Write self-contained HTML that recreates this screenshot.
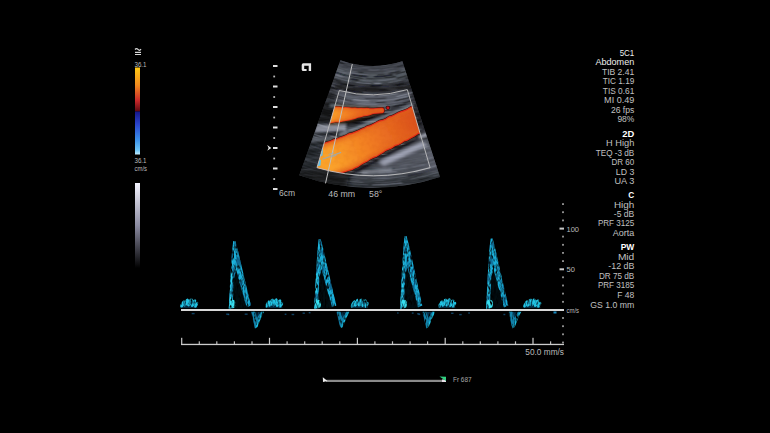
<!DOCTYPE html>
<html><head><meta charset="utf-8">
<style>
html,body{margin:0;padding:0;background:#000;width:770px;height:433px;overflow:hidden}
svg{display:block;position:absolute;left:0;top:0}
text{font-family:"Liberation Sans",sans-serif}
</style></head><body>
<svg width="770" height="433" viewBox="0 0 770 433">
<defs>
  <linearGradient id="gRed" x1="0" y1="0" x2="0" y2="1">
    <stop offset="0" stop-color="#ffc814"/>
    <stop offset="0.4" stop-color="#f08a1e"/>
    <stop offset="0.75" stop-color="#c8282a"/>
    <stop offset="1" stop-color="#5a0810"/>
  </linearGradient>
  <linearGradient id="gBlue" x1="0" y1="0" x2="0" y2="1">
    <stop offset="0" stop-color="#16168a"/>
    <stop offset="0.3" stop-color="#2a44cc"/>
    <stop offset="0.65" stop-color="#3a8ee8"/>
    <stop offset="0.9" stop-color="#6cc4f6"/>
    <stop offset="1" stop-color="#c0ecff"/>
  </linearGradient>
  <linearGradient id="gGray" x1="0" y1="0" x2="0" y2="1">
    <stop offset="0" stop-color="#f4f4ff"/>
    <stop offset="0.5" stop-color="#8a8aa0"/>
    <stop offset="1" stop-color="#000"/>
  </linearGradient>
</defs>
<rect width="770" height="433" fill="#000"/>


<!-- sector image -->
<defs>
  <clipPath id="cSector"><path d="M340.4 60.3 A96 96 0 0 0 402.4 61.3 L440 177 A218 218 0 0 1 299.3 175.3 Z"/></clipPath>
  <clipPath id="cBox"><path d="M339.3 90.5 A125 125 0 0 0 407.3 89.6 L430.1 167.7 A205.5 205.5 0 0 1 317 167.7 Z"/></clipPath>
  <filter id="fTex" x="0" y="0" width="100%" height="100%" color-interpolation-filters="sRGB">
    <feTurbulence type="fractalNoise" baseFrequency="0.045 0.28" numOctaves="3" seed="7"/>
    <feColorMatrix type="matrix" values="0 0 0 0 0.72  0 0 0 0 0.74  0 0 0 0 0.84  2.4 0 0 0 -1.05"/>
  </filter>
  <filter id="fTexD" x="0" y="0" width="100%" height="100%" color-interpolation-filters="sRGB">
    <feTurbulence type="fractalNoise" baseFrequency="0.04 0.22" numOctaves="2" seed="21"/>
    <feColorMatrix type="matrix" values="0 0 0 0 0.03  0 0 0 0 0.03  0 0 0 0 0.04  2.4 0 0 0 -1.0"/>
  </filter>
  <filter id="fVTex" x="0" y="0" width="100%" height="100%" color-interpolation-filters="sRGB">
    <feTurbulence type="fractalNoise" baseFrequency="0.2" numOctaves="2" seed="12"/>
    <feColorMatrix type="matrix" values="0 0 0 0 0.75  0 0 0 0 0.25  0 0 0 0 0.08  2.6 0 0 0 -1.15"/>
  </filter>
  <filter id="fB1" x="-20%" y="-20%" width="140%" height="140%"><feGaussianBlur stdDeviation="1.2"/></filter>
  <filter id="fArc" x="-20%" y="-20%" width="140%" height="140%"><feGaussianBlur stdDeviation="1.1 0.5"/></filter>
  <filter id="fB07" x="-20%" y="-20%" width="140%" height="140%"><feGaussianBlur stdDeviation="0.7"/></filter>
  <filter id="fB2" x="-30%" y="-30%" width="160%" height="160%"><feGaussianBlur stdDeviation="2.5"/></filter>
  <filter id="fB3" x="-30%" y="-30%" width="160%" height="160%"><feGaussianBlur stdDeviation="4"/></filter>
  <linearGradient id="gVes" gradientUnits="userSpaceOnUse" x1="330" y1="160" x2="420" y2="114">
    <stop offset="0" stop-color="#faa22a"/>
    <stop offset="0.4" stop-color="#f27e22"/>
    <stop offset="1" stop-color="#d84c1c"/>
  </linearGradient>
  <linearGradient id="gVes2" gradientUnits="userSpaceOnUse" x1="330" y1="115" x2="385" y2="110">
    <stop offset="0" stop-color="#faa22a"/>
    <stop offset="0.5" stop-color="#ee6e20"/>
    <stop offset="1" stop-color="#d84818"/>
  </linearGradient>
</defs>
<g clip-path="url(#cSector)">
  <rect x="290" y="55" width="160" height="140" fill="#2c2e33"/>
<g filter="url(#fB2)">
<path d="M334.7 51.6A90 90 0 0 0 410.7 51.6L416.7 64.3A104 104 0 0 1 328.7 64.3Z" fill="#383b42"/>
<path d="M328.7 64.3A104 104 0 0 0 416.7 64.3L420.9 73.3A114 114 0 0 1 324.5 73.3Z" fill="#50545c"/>
<path d="M345.1 80.6A114 114 0 0 0 404.1 79.6L406.9 89.2A124 124 0 0 1 342.7 90.3Z" fill="#1a1c20"/>
<path d="M338.5 89.2A124 124 0 0 0 411.0 87.9L415.0 100.3A137 137 0 0 1 334.9 101.7Z" fill="#585c66"/>
<path d="M312.6 93.1A137 137 0 0 0 334.9 101.7L309.3 191.1A230 230 0 0 1 271.9 176.7Z" fill="#24262a"/>
<path d="M318.4 159.4A197 197 0 0 0 456.0 148.5L469.9 178.5A230 230 0 0 1 309.3 191.1Z" fill="#2c2e32"/>
<path d="M408.2 89.9A125 125 0 0 0 425.5 83.3L444.5 124.1A170 170 0 0 1 421.0 133.0Z" fill="#222428"/>
<path d="M421.0 133.0A170 170 0 0 0 444.5 124.1L461.4 160.3A210 210 0 0 1 432.3 171.4Z" fill="#3a3d44"/>
</g>


<g fill="none" stroke-linecap="round" filter="url(#fArc)">
<path d="M338.0 59.5A96 96 0 0 0 348.0 62.8" stroke="#a0a6b6" stroke-opacity="0.13" stroke-width="1.1"/>
<path d="M355.6 64.5A96 96 0 0 0 367.0 65.8" stroke="#7c8290" stroke-opacity="0.13" stroke-width="1.1"/>
<path d="M373.8 66.0A96 96 0 0 0 388.9 64.6" stroke="#b0b6c6" stroke-opacity="0.25" stroke-width="1.2"/>
<path d="M394.4 63.5A96 96 0 0 0 405.2 60.3" stroke="#8a90a0" stroke-opacity="0.11" stroke-width="0.8"/>
<path d="M334.6 60.2A98 98 0 0 0 343.4 63.4" stroke="#0a0b0d" stroke-opacity="0.46" stroke-width="1.6"/>
<path d="M347.4 64.6A98 98 0 0 0 357.0 66.7" stroke="#7c8290" stroke-opacity="0.17" stroke-width="1.1"/>
<path d="M362.9 67.5A98 98 0 0 0 379.0 67.7" stroke="#a0a6b6" stroke-opacity="0.18" stroke-width="0.6"/>
<path d="M380.5 67.6A98 98 0 0 0 391.1 66.2" stroke="#7c8290" stroke-opacity="0.16" stroke-width="1.5"/>
<path d="M392.8 65.9A98 98 0 0 0 406.2 62.0" stroke="#8a90a0" stroke-opacity="0.18" stroke-width="1.5"/>
<path d="M334.1 62.3A100 100 0 0 0 345.3 66.3" stroke="#8a90a0" stroke-opacity="0.15" stroke-width="0.6"/>
<path d="M352.1 68.0A100 100 0 0 0 360.7 69.4" stroke="#8a90a0" stroke-opacity="0.11" stroke-width="1.0"/>
<path d="M368.8 70.0A100 100 0 0 0 378.7 69.9" stroke="#a0a6b6" stroke-opacity="0.25" stroke-width="1.3"/>
<path d="M384.9 69.4A100 100 0 0 0 393.6 67.9" stroke="#a0a6b6" stroke-opacity="0.11" stroke-width="1.4"/>
<path d="M397.4 67.0A100 100 0 0 0 406.9 64.1" stroke="#0a0b0d" stroke-opacity="0.31" stroke-width="1.0"/>
<path d="M336.4 66.5A103 103 0 0 0 347.4 69.9" stroke="#b0b6c6" stroke-opacity="0.14" stroke-width="1.3"/>
<path d="M348.6 70.2A103 103 0 0 0 356.2 71.8" stroke="#8a90a0" stroke-opacity="0.14" stroke-width="1.2"/>
<path d="M359.5 72.2A103 103 0 0 0 362.4 72.6" stroke="#0a0b0d" stroke-opacity="0.34" stroke-width="1.5"/>
<path d="M366.3 72.9A103 103 0 0 0 381.7 72.7" stroke="#a0a6b6" stroke-opacity="0.15" stroke-width="0.8"/>
<path d="M383.7 72.5A103 103 0 0 0 395.5 70.5" stroke="#a0a6b6" stroke-opacity="0.21" stroke-width="0.9"/>
<path d="M402.1 68.8A103 103 0 0 0 408.0 66.9" stroke="#8a90a0" stroke-opacity="0.11" stroke-width="1.5"/>
<path d="M336.5 68.6A105 105 0 0 0 342.9 70.7" stroke="#7c8290" stroke-opacity="0.43" stroke-width="1.4"/>
<path d="M350.3 72.6A105 105 0 0 0 368.1 74.9" stroke="#8a90a0" stroke-opacity="0.34" stroke-width="1.4"/>
<path d="M370.1 75.0A105 105 0 0 0 376.0 75.0" stroke="#b0b6c6" stroke-opacity="0.33" stroke-width="0.6"/>
<path d="M377.1 74.9A105 105 0 0 0 384.2 74.4" stroke="#0a0b0d" stroke-opacity="0.33" stroke-width="1.0"/>
<path d="M389.5 73.7A105 105 0 0 0 399.0 71.7" stroke="#0a0b0d" stroke-opacity="0.46" stroke-width="1.9"/>
<path d="M402.5 70.7A105 105 0 0 0 408.6 68.7" stroke="#7c8290" stroke-opacity="0.28" stroke-width="1.5"/>
<path d="M335.4 69.9A107 107 0 0 0 345.4 73.1" stroke="#8a90a0" stroke-opacity="0.27" stroke-width="1.1"/>
<path d="M352.2 74.7A107 107 0 0 0 366.6 76.5" stroke="#0a0b0d" stroke-opacity="0.51" stroke-width="1.8"/>
<path d="M375.0 76.6A107 107 0 0 0 392.2 74.9" stroke="#0a0b0d" stroke-opacity="0.57" stroke-width="1.8"/>
<path d="M396.0 74.1A107 107 0 0 0 405.0 71.6" stroke="#0a0b0d" stroke-opacity="0.47" stroke-width="1.5"/>
<path d="M334.3 71.8A109 109 0 0 0 346.4 75.6" stroke="#0a0b0d" stroke-opacity="0.60" stroke-width="1.9"/>
<path d="M348.0 75.9A109 109 0 0 0 362.4 78.3" stroke="#0a0b0d" stroke-opacity="0.47" stroke-width="1.3"/>
<path d="M366.6 78.6A109 109 0 0 0 383.0 78.3" stroke="#0a0b0d" stroke-opacity="0.31" stroke-width="1.5"/>
<path d="M384.7 78.1A109 109 0 0 0 395.1 76.5" stroke="#0a0b0d" stroke-opacity="0.45" stroke-width="1.5"/>
<path d="M398.0 75.8A109 109 0 0 0 409.9 72.2" stroke="#7c8290" stroke-opacity="0.17" stroke-width="1.2"/>
<path d="M334.7 74.4A111 111 0 0 0 342.9 77.0" stroke="#a0a6b6" stroke-opacity="0.36" stroke-width="1.2"/>
<path d="M351.7 79.1A111 111 0 0 0 357.8 80.1" stroke="#0a0b0d" stroke-opacity="0.57" stroke-width="1.9"/>
<path d="M362.5 80.6A111 111 0 0 0 371.7 81.1" stroke="#a0a6b6" stroke-opacity="0.29" stroke-width="0.9"/>
<path d="M377.8 81.0A111 111 0 0 0 395.3 78.8" stroke="#7c8290" stroke-opacity="0.53" stroke-width="0.7"/>
<path d="M396.6 78.5A111 111 0 0 0 406.9 75.7" stroke="#0a0b0d" stroke-opacity="0.41" stroke-width="1.4"/>
<path d="M333.6 76.7A114 114 0 0 0 350.1 81.4" stroke="#8a90a0" stroke-opacity="0.34" stroke-width="1.1"/>
<path d="M356.6 82.5A114 114 0 0 0 370.9 83.6" stroke="#8a90a0" stroke-opacity="0.47" stroke-width="1.0"/>
<path d="M374.4 83.6A114 114 0 0 0 380.6 83.4" stroke="#a0a6b6" stroke-opacity="0.52" stroke-width="1.5"/>
<path d="M388.4 82.6A114 114 0 0 0 393.3 81.8" stroke="#7c8290" stroke-opacity="0.33" stroke-width="1.2"/>
<path d="M395.2 81.4A114 114 0 0 0 401.4 80.0" stroke="#8a90a0" stroke-opacity="0.29" stroke-width="1.1"/>
<path d="M406.4 78.5A114 114 0 0 0 409.8 77.4" stroke="#0a0b0d" stroke-opacity="0.46" stroke-width="1.9"/>
<path d="M334.9 79.6A116 116 0 0 0 340.4 81.4" stroke="#0a0b0d" stroke-opacity="0.37" stroke-width="1.3"/>
<path d="M348.9 83.5A116 116 0 0 0 367.1 85.8" stroke="#a0a6b6" stroke-opacity="0.08" stroke-width="1.4"/>
<path d="M371.7 86.0A116 116 0 0 0 381.2 85.6" stroke="#0a0b0d" stroke-opacity="0.54" stroke-width="1.9"/>
<path d="M387.3 85.0A116 116 0 0 0 398.2 83.1" stroke="#8a90a0" stroke-opacity="0.05" stroke-width="1.4"/>
<path d="M404.9 81.4A116 116 0 0 0 412.4 79.0" stroke="#7c8290" stroke-opacity="0.19" stroke-width="1.2"/>
<path d="M330.6 79.8A118 118 0 0 0 334.1 81.1" stroke="#7c8290" stroke-opacity="0.42" stroke-width="0.6"/>
<path d="M338.1 82.4A118 118 0 0 0 354.8 86.2" stroke="#0a0b0d" stroke-opacity="0.35" stroke-width="1.2"/>
<path d="M356.4 86.4A118 118 0 0 0 373.2 87.6" stroke="#b0b6c6" stroke-opacity="0.10" stroke-width="1.0"/>
<path d="M375.5 87.5A118 118 0 0 0 395.0 85.4" stroke="#7c8290" stroke-opacity="0.09" stroke-width="1.1"/>
<path d="M396.8 85.1A118 118 0 0 0 402.6 83.7" stroke="#0a0b0d" stroke-opacity="0.38" stroke-width="1.6"/>
<path d="M408.1 82.1A118 118 0 0 0 412.9 80.5" stroke="#0a0b0d" stroke-opacity="0.39" stroke-width="1.0"/>
<path d="M327.9 81.3A120 120 0 0 0 339.3 85.2" stroke="#8a90a0" stroke-opacity="0.46" stroke-width="0.6"/>
<path d="M344.0 86.5A120 120 0 0 0 364.1 89.6" stroke="#8a90a0" stroke-opacity="0.07" stroke-width="1.2"/>
<path d="M370.0 89.9A120 120 0 0 0 374.4 89.9" stroke="#b0b6c6" stroke-opacity="0.06" stroke-width="1.0"/>
<path d="M380.5 89.7A120 120 0 0 0 385.9 89.2" stroke="#0a0b0d" stroke-opacity="0.57" stroke-width="1.4"/>
<path d="M390.9 88.5A120 120 0 0 0 399.6 86.9" stroke="#0a0b0d" stroke-opacity="0.58" stroke-width="1.0"/>
<path d="M402.3 86.2A120 120 0 0 0 413.7 82.7" stroke="#a0a6b6" stroke-opacity="0.14" stroke-width="0.9"/>
<path d="M326.7 83.6A123 123 0 0 0 338.3 87.6" stroke="#7c8290" stroke-opacity="0.50" stroke-width="1.2"/>
<path d="M344.0 89.2A123 123 0 0 0 362.9 92.2" stroke="#0a0b0d" stroke-opacity="0.55" stroke-width="1.5"/>
<path d="M364.2 92.3A123 123 0 0 0 377.2 92.5" stroke="#a0a6b6" stroke-opacity="0.07" stroke-width="1.4"/>
<path d="M386.6 91.8A123 123 0 0 0 400.7 89.3" stroke="#7c8290" stroke-opacity="0.10" stroke-width="0.9"/>
<path d="M409.7 86.8A123 123 0 0 0 414.6 85.2" stroke="#a0a6b6" stroke-opacity="0.32" stroke-width="0.7"/>
<path d="M329.9 86.9A124 124 0 0 0 337.6 89.4" stroke="#0a0b0d" stroke-opacity="0.43" stroke-width="1.7"/>
<path d="M339.5 90.0A124 124 0 0 0 344.9 91.4" stroke="#0a0b0d" stroke-opacity="0.31" stroke-width="1.0"/>
<path d="M349.9 92.4A124 124 0 0 0 365.6 94.3" stroke="#0a0b0d" stroke-opacity="0.33" stroke-width="1.4"/>
<path d="M375.6 94.5A124 124 0 0 0 392.8 92.9" stroke="#0a0b0d" stroke-opacity="0.36" stroke-width="0.9"/>
<path d="M398.7 91.7A124 124 0 0 0 403.7 90.6" stroke="#b0b6c6" stroke-opacity="0.17" stroke-width="0.8"/>
<path d="M405.2 90.2A124 124 0 0 0 411.9 88.2" stroke="#0a0b0d" stroke-opacity="0.58" stroke-width="0.9"/>
<path d="M331.2 89.2A126 126 0 0 0 342.7 92.6" stroke="#b0b6c6" stroke-opacity="0.14" stroke-width="0.9"/>
<path d="M351.2 94.3A126 126 0 0 0 358.3 95.4" stroke="#0a0b0d" stroke-opacity="0.31" stroke-width="1.0"/>
<path d="M363.1 95.8A126 126 0 0 0 374.0 96.2" stroke="#a0a6b6" stroke-opacity="0.46" stroke-width="0.7"/>
<path d="M378.7 96.0A126 126 0 0 0 396.7 93.9" stroke="#b0b6c6" stroke-opacity="0.44" stroke-width="0.8"/>
<path d="M400.9 93.0A126 126 0 0 0 414.6 89.0" stroke="#0a0b0d" stroke-opacity="0.38" stroke-width="0.9"/>
<path d="M323.7 89.1A129 129 0 0 0 343.9 95.6" stroke="#7c8290" stroke-opacity="0.18" stroke-width="1.3"/>
<path d="M346.3 96.1A129 129 0 0 0 357.3 97.9" stroke="#7c8290" stroke-opacity="0.35" stroke-width="0.7"/>
<path d="M365.7 98.6A129 129 0 0 0 386.0 98.1" stroke="#0a0b0d" stroke-opacity="0.31" stroke-width="1.1"/>
<path d="M397.0 96.5A129 129 0 0 0 416.8 91.0" stroke="#b0b6c6" stroke-opacity="0.44" stroke-width="1.1"/>
<path d="M330.1 93.8A131 131 0 0 0 345.4 98.1" stroke="#0a0b0d" stroke-opacity="0.59" stroke-width="0.8"/>
<path d="M353.6 99.6A131 131 0 0 0 368.9 100.9" stroke="#b0b6c6" stroke-opacity="0.42" stroke-width="1.3"/>
<path d="M377.7 100.9A131 131 0 0 0 393.6 99.3" stroke="#7c8290" stroke-opacity="0.56" stroke-width="1.1"/>
<path d="M394.8 99.1A131 131 0 0 0 407.8 96.2" stroke="#8a90a0" stroke-opacity="0.47" stroke-width="1.3"/>
<path d="M326.0 94.2A133 133 0 0 0 343.6 99.4" stroke="#0a0b0d" stroke-opacity="0.35" stroke-width="1.4"/>
<path d="M345.2 99.8A133 133 0 0 0 351.9 101.0" stroke="#0a0b0d" stroke-opacity="0.32" stroke-width="1.9"/>
<path d="M358.2 101.9A133 133 0 0 0 369.9 102.6" stroke="#7c8290" stroke-opacity="0.43" stroke-width="1.0"/>
<path d="M376.5 102.6A133 133 0 0 0 385.3 102.1" stroke="#0a0b0d" stroke-opacity="0.52" stroke-width="0.8"/>
<path d="M396.0 100.6A133 133 0 0 0 414.1 96.0" stroke="#0a0b0d" stroke-opacity="0.42" stroke-width="1.6"/>
<path d="M322.9 94.8A134 134 0 0 0 333.7 98.6" stroke="#0a0b0d" stroke-opacity="0.40" stroke-width="1.8"/>
<path d="M340.8 100.5A134 134 0 0 0 348.6 102.2" stroke="#a0a6b6" stroke-opacity="0.26" stroke-width="0.7"/>
<path d="M357.3 103.4A134 134 0 0 0 376.9 104.3" stroke="#a0a6b6" stroke-opacity="0.46" stroke-width="0.7"/>
<path d="M387.6 103.5A134 134 0 0 0 403.3 100.8" stroke="#8a90a0" stroke-opacity="0.37" stroke-width="0.7"/>
<path d="M409.1 99.3A134 134 0 0 0 418.6 96.2" stroke="#7c8290" stroke-opacity="0.20" stroke-width="1.2"/>
<path d="M326.0 98.2A136 136 0 0 0 345.3 103.7" stroke="#a0a6b6" stroke-opacity="0.12" stroke-width="0.7"/>
<path d="M347.9 104.2A136 136 0 0 0 369.4 106.4" stroke="#0a0b0d" stroke-opacity="0.41" stroke-width="1.1"/>
<path d="M379.0 106.3A136 136 0 0 0 396.3 104.4" stroke="#7c8290" stroke-opacity="0.51" stroke-width="0.8"/>
<path d="M403.4 103.0A136 136 0 0 0 411.7 100.8" stroke="#0a0b0d" stroke-opacity="0.56" stroke-width="0.8"/>
<path d="M321.1 98.2A138 138 0 0 0 332.8 102.2" stroke="#7c8290" stroke-opacity="0.10" stroke-width="0.7"/>
<path d="M340.5 104.3A138 138 0 0 0 357.7 107.3" stroke="#0a0b0d" stroke-opacity="0.41" stroke-width="1.4"/>
<path d="M364.8 107.9A138 138 0 0 0 372.7 108.1" stroke="#0a0b0d" stroke-opacity="0.55" stroke-width="0.9"/>
<path d="M377.7 108.0A138 138 0 0 0 383.7 107.7" stroke="#0a0b0d" stroke-opacity="0.53" stroke-width="1.1"/>
<path d="M393.7 106.5A138 138 0 0 0 405.7 104.1" stroke="#0a0b0d" stroke-opacity="0.41" stroke-width="1.6"/>
<path d="M409.6 103.1A138 138 0 0 0 419.9 99.8" stroke="#a0a6b6" stroke-opacity="0.17" stroke-width="0.9"/>
<path d="M326.0 101.8A140 140 0 0 0 331.0 103.5" stroke="#b0b6c6" stroke-opacity="0.19" stroke-width="1.0"/>
<path d="M333.1 104.1A140 140 0 0 0 353.3 108.5" stroke="#8a90a0" stroke-opacity="0.49" stroke-width="1.0"/>
<path d="M354.6 108.7A140 140 0 0 0 374.1 109.9" stroke="#0a0b0d" stroke-opacity="0.37" stroke-width="1.6"/>
<path d="M378.9 109.7A140 140 0 0 0 389.3 108.9" stroke="#b0b6c6" stroke-opacity="0.44" stroke-width="1.4"/>
<path d="M400.4 107.1A140 140 0 0 0 420.5 101.4" stroke="#7c8290" stroke-opacity="0.41" stroke-width="0.8"/>
<path d="M323.7 104.1A143 143 0 0 0 337.7 108.5" stroke="#0a0b0d" stroke-opacity="0.31" stroke-width="1.6"/>
<path d="M339.8 109.0A143 143 0 0 0 355.7 111.8" stroke="#0a0b0d" stroke-opacity="0.41" stroke-width="1.3"/>
<path d="M365.8 112.7A143 143 0 0 0 372.8 112.8" stroke="#8a90a0" stroke-opacity="0.51" stroke-width="1.4"/>
<path d="M380.7 112.6A143 143 0 0 0 390.4 111.7" stroke="#a0a6b6" stroke-opacity="0.44" stroke-width="1.5"/>
<path d="M391.9 111.5A143 143 0 0 0 409.0 108.1" stroke="#7c8290" stroke-opacity="0.52" stroke-width="0.7"/>
<path d="M418.9 105.2A143 143 0 0 0 421.5 104.2" stroke="#0a0b0d" stroke-opacity="0.33" stroke-width="1.6"/>
<path d="M323.2 105.9A145 145 0 0 0 340.2 110.9" stroke="#7c8290" stroke-opacity="0.18" stroke-width="1.0"/>
<path d="M344.1 111.8A145 145 0 0 0 355.0 113.5" stroke="#0a0b0d" stroke-opacity="0.45" stroke-width="1.4"/>
<path d="M367.2 114.5A145 145 0 0 0 386.5 114.0" stroke="#0a0b0d" stroke-opacity="0.42" stroke-width="1.8"/>
<path d="M395.7 112.8A145 145 0 0 0 413.3 108.8" stroke="#0a0b0d" stroke-opacity="0.55" stroke-width="1.9"/>
<path d="M321.2 108.3A148 148 0 0 0 335.8 112.9" stroke="#0a0b0d" stroke-opacity="0.43" stroke-width="1.3"/>
<path d="M345.1 115.0A148 148 0 0 0 352.0 116.1" stroke="#0a0b0d" stroke-opacity="0.41" stroke-width="1.0"/>
<path d="M361.9 117.2A148 148 0 0 0 370.2 117.5" stroke="#8a90a0" stroke-opacity="0.41" stroke-width="1.3"/>
<path d="M376.4 117.5A148 148 0 0 0 386.9 116.9" stroke="#0a0b0d" stroke-opacity="0.57" stroke-width="1.7"/>
<path d="M390.0 116.6A148 148 0 0 0 394.2 116.0" stroke="#0a0b0d" stroke-opacity="0.39" stroke-width="1.0"/>
<path d="M400.9 114.8A148 148 0 0 0 412.3 112.1" stroke="#0a0b0d" stroke-opacity="0.44" stroke-width="1.4"/>
<path d="M420.1 109.8A148 148 0 0 0 423.2 108.7" stroke="#7c8290" stroke-opacity="0.20" stroke-width="1.4"/>
<path d="M322.4 111.3A150 150 0 0 0 336.5 115.5" stroke="#0a0b0d" stroke-opacity="0.50" stroke-width="1.7"/>
<path d="M342.4 116.8A150 150 0 0 0 348.3 117.9" stroke="#a0a6b6" stroke-opacity="0.58" stroke-width="1.3"/>
<path d="M359.7 119.4A150 150 0 0 0 372.1 119.9" stroke="#7c8290" stroke-opacity="0.52" stroke-width="0.7"/>
<path d="M379.7 119.8A150 150 0 0 0 403.9 116.7" stroke="#0a0b0d" stroke-opacity="0.57" stroke-width="1.3"/>
<path d="M415.4 113.7A150 150 0 0 0 424.0 110.9" stroke="#0a0b0d" stroke-opacity="0.42" stroke-width="1.7"/>
<path d="M322.4 113.2A152 152 0 0 0 343.8 119.0" stroke="#0a0b0d" stroke-opacity="0.49" stroke-width="1.4"/>
<path d="M346.6 119.5A152 152 0 0 0 351.7 120.3" stroke="#a0a6b6" stroke-opacity="0.53" stroke-width="1.4"/>
<path d="M359.8 121.2A152 152 0 0 0 382.3 121.4" stroke="#8a90a0" stroke-opacity="0.56" stroke-width="1.2"/>
<path d="M384.6 121.3A152 152 0 0 0 390.4 120.7" stroke="#7c8290" stroke-opacity="0.25" stroke-width="0.8"/>
<path d="M400.5 119.2A152 152 0 0 0 408.6 117.4" stroke="#0a0b0d" stroke-opacity="0.43" stroke-width="0.8"/>
<path d="M417.8 114.9A152 152 0 0 0 424.6 112.6" stroke="#0a0b0d" stroke-opacity="0.59" stroke-width="1.2"/>
<path d="M318.1 113.9A154 154 0 0 0 343.9 121.2" stroke="#8a90a0" stroke-opacity="0.17" stroke-width="0.7"/>
<path d="M353.2 122.7A154 154 0 0 0 366.1 123.8" stroke="#0a0b0d" stroke-opacity="0.55" stroke-width="1.6"/>
<path d="M373.1 123.9A154 154 0 0 0 377.4 123.8" stroke="#0a0b0d" stroke-opacity="0.37" stroke-width="1.5"/>
<path d="M383.3 123.5A154 154 0 0 0 397.6 121.9" stroke="#0a0b0d" stroke-opacity="0.54" stroke-width="1.0"/>
<path d="M399.1 121.6A154 154 0 0 0 416.7 117.5" stroke="#7c8290" stroke-opacity="0.58" stroke-width="1.3"/>
<path d="M421.3 116.0A154 154 0 0 0 425.3 114.6" stroke="#b0b6c6" stroke-opacity="0.21" stroke-width="0.9"/>
<path d="M317.1 116.7A157 157 0 0 0 337.2 122.8" stroke="#0a0b0d" stroke-opacity="0.33" stroke-width="1.0"/>
<path d="M342.5 123.9A157 157 0 0 0 348.7 125.0" stroke="#0a0b0d" stroke-opacity="0.35" stroke-width="1.3"/>
<path d="M358.3 126.2A157 157 0 0 0 381.9 126.6" stroke="#a0a6b6" stroke-opacity="0.26" stroke-width="1.5"/>
<path d="M390.5 125.8A157 157 0 0 0 404.5 123.6" stroke="#b0b6c6" stroke-opacity="0.57" stroke-width="0.7"/>
<path d="M415.1 121.0A157 157 0 0 0 423.6 118.3" stroke="#0a0b0d" stroke-opacity="0.44" stroke-width="1.9"/>
<path d="M318.0 119.6A159 159 0 0 0 335.8 125.0" stroke="#0a0b0d" stroke-opacity="0.37" stroke-width="2.0"/>
<path d="M341.1 126.1A159 159 0 0 0 357.6 128.6" stroke="#7c8290" stroke-opacity="0.47" stroke-width="0.7"/>
<path d="M362.2 129.0A159 159 0 0 0 375.3 129.3" stroke="#0a0b0d" stroke-opacity="0.55" stroke-width="1.5"/>
<path d="M383.1 129.0A159 159 0 0 0 390.9 128.3" stroke="#0a0b0d" stroke-opacity="0.46" stroke-width="1.2"/>
<path d="M401.8 126.6A159 159 0 0 0 417.3 122.9" stroke="#0a0b0d" stroke-opacity="0.60" stroke-width="1.4"/>
<path d="M420.4 122.0A159 159 0 0 0 427.2 119.7" stroke="#8a90a0" stroke-opacity="0.20" stroke-width="0.8"/>
<path d="M312.3 119.3A161 161 0 0 0 329.3 125.1" stroke="#7c8290" stroke-opacity="0.12" stroke-width="1.4"/>
<path d="M339.3 127.5A161 161 0 0 0 354.1 129.9" stroke="#8a90a0" stroke-opacity="0.44" stroke-width="0.8"/>
<path d="M364.7 130.8A161 161 0 0 0 390.6 130.0" stroke="#0a0b0d" stroke-opacity="0.48" stroke-width="0.9"/>
<path d="M404.4 127.9A161 161 0 0 0 427.4 121.5" stroke="#0a0b0d" stroke-opacity="0.37" stroke-width="1.5"/>
<path d="M310.7 121.6A164 164 0 0 0 327.3 127.4" stroke="#a0a6b6" stroke-opacity="0.74" stroke-width="1.4"/>
<path d="M329.6 128.0A164 164 0 0 0 357.7 133.1" stroke="#0a0b0d" stroke-opacity="0.55" stroke-width="1.9"/>
<path d="M360.9 133.4A164 164 0 0 0 380.1 133.6" stroke="#0a0b0d" stroke-opacity="0.35" stroke-width="1.3"/>
<path d="M389.7 132.9A164 164 0 0 0 394.8 132.3" stroke="#b0b6c6" stroke-opacity="0.31" stroke-width="1.1"/>
<path d="M402.9 131.0A164 164 0 0 0 413.3 128.7" stroke="#8a90a0" stroke-opacity="0.50" stroke-width="1.3"/>
<path d="M421.7 126.3A164 164 0 0 0 428.7 123.9" stroke="#7c8290" stroke-opacity="0.17" stroke-width="1.2"/>
<path d="M315.9 126.3A166 166 0 0 0 337.9 132.7" stroke="#0a0b0d" stroke-opacity="0.55" stroke-width="1.8"/>
<path d="M345.6 134.1A166 166 0 0 0 359.9 135.9" stroke="#7c8290" stroke-opacity="0.43" stroke-width="1.0"/>
<path d="M367.0 136.3A166 166 0 0 0 393.6 135.0" stroke="#b0b6c6" stroke-opacity="0.50" stroke-width="1.1"/>
<path d="M399.2 134.2A166 166 0 0 0 421.5 129.0" stroke="#8a90a0" stroke-opacity="0.33" stroke-width="1.4"/>
<path d="M426.7 127.4A166 166 0 0 0 429.6 126.3" stroke="#0a0b0d" stroke-opacity="0.44" stroke-width="0.9"/>
<path d="M312.6 128.2A169 169 0 0 0 332.5 134.4" stroke="#0a0b0d" stroke-opacity="0.60" stroke-width="1.7"/>
<path d="M346.2 137.1A169 169 0 0 0 372.4 139.2" stroke="#a0a6b6" stroke-opacity="0.32" stroke-width="1.3"/>
<path d="M378.8 139.1A169 169 0 0 0 397.4 137.4" stroke="#a0a6b6" stroke-opacity="0.29" stroke-width="1.1"/>
<path d="M410.6 134.9A169 169 0 0 0 430.6 129.0" stroke="#7c8290" stroke-opacity="0.11" stroke-width="0.8"/>
<path d="M310.7 129.8A171 171 0 0 0 327.8 135.5" stroke="#0a0b0d" stroke-opacity="0.37" stroke-width="1.2"/>
<path d="M331.1 136.3A171 171 0 0 0 346.8 139.5" stroke="#a0a6b6" stroke-opacity="0.57" stroke-width="1.5"/>
<path d="M352.5 140.2A171 171 0 0 0 368.9 141.4" stroke="#8a90a0" stroke-opacity="0.31" stroke-width="1.4"/>
<path d="M373.2 141.4A171 171 0 0 0 386.7 140.9" stroke="#a0a6b6" stroke-opacity="0.43" stroke-width="0.8"/>
<path d="M394.5 140.0A171 171 0 0 0 422.5 134.1" stroke="#0a0b0d" stroke-opacity="0.39" stroke-width="1.8"/>
<path d="M307.6 131.8A174 174 0 0 0 322.2 136.9" stroke="#b0b6c6" stroke-opacity="0.56" stroke-width="0.8"/>
<path d="M335.3 140.3A174 174 0 0 0 361.9 144.1" stroke="#0a0b0d" stroke-opacity="0.38" stroke-width="1.7"/>
<path d="M365.1 144.2A174 174 0 0 0 382.6 144.1" stroke="#8a90a0" stroke-opacity="0.45" stroke-width="0.8"/>
<path d="M388.1 143.7A174 174 0 0 0 400.4 142.2" stroke="#0a0b0d" stroke-opacity="0.38" stroke-width="1.6"/>
<path d="M414.3 139.3A174 174 0 0 0 421.0 137.6" stroke="#8a90a0" stroke-opacity="0.43" stroke-width="0.6"/>
<path d="M306.9 134.1A177 177 0 0 0 317.4 138.0" stroke="#7c8290" stroke-opacity="0.84" stroke-width="0.8"/>
<path d="M329.6 141.5A177 177 0 0 0 338.7 143.5" stroke="#a0a6b6" stroke-opacity="0.59" stroke-width="0.6"/>
<path d="M350.3 145.4A177 177 0 0 0 367.0 146.7" stroke="#b0b6c6" stroke-opacity="0.27" stroke-width="0.7"/>
<path d="M378.9 146.7A177 177 0 0 0 403.8 144.1" stroke="#b0b6c6" stroke-opacity="0.52" stroke-width="1.1"/>
<path d="M417.6 141.0A177 177 0 0 0 433.2 136.2" stroke="#0a0b0d" stroke-opacity="0.46" stroke-width="1.9"/>
<path d="M311.9 138.0A179 179 0 0 0 320.5 140.9" stroke="#b0b6c6" stroke-opacity="0.16" stroke-width="0.8"/>
<path d="M330.3 143.6A179 179 0 0 0 353.5 147.6" stroke="#a0a6b6" stroke-opacity="0.54" stroke-width="1.1"/>
<path d="M365.2 148.5A179 179 0 0 0 376.8 148.6" stroke="#0a0b0d" stroke-opacity="0.32" stroke-width="1.3"/>
<path d="M381.2 148.5A179 179 0 0 0 409.0 145.0" stroke="#0a0b0d" stroke-opacity="0.48" stroke-width="1.8"/>
<path d="M414.9 143.6A179 179 0 0 0 432.2 138.5" stroke="#0a0b0d" stroke-opacity="0.31" stroke-width="0.9"/>
<path d="M309.7 139.2A181 181 0 0 0 329.0 145.1" stroke="#0a0b0d" stroke-opacity="0.32" stroke-width="1.3"/>
<path d="M340.5 147.6A181 181 0 0 0 363.7 150.3" stroke="#0a0b0d" stroke-opacity="0.53" stroke-width="1.7"/>
<path d="M376.9 150.5A181 181 0 0 0 394.9 149.1" stroke="#b0b6c6" stroke-opacity="0.33" stroke-width="0.7"/>
<path d="M405.6 147.5A181 181 0 0 0 428.1 141.8" stroke="#0a0b0d" stroke-opacity="0.32" stroke-width="1.3"/>
<path d="M303.9 139.2A183 183 0 0 0 333.5 148.4" stroke="#a0a6b6" stroke-opacity="0.11" stroke-width="1.0"/>
<path d="M335.7 148.8A183 183 0 0 0 360.4 152.2" stroke="#a0a6b6" stroke-opacity="0.28" stroke-width="1.1"/>
<path d="M362.5 152.3A183 183 0 0 0 380.1 152.5" stroke="#0a0b0d" stroke-opacity="0.50" stroke-width="1.7"/>
<path d="M395.1 151.3A183 183 0 0 0 425.6 144.8" stroke="#8a90a0" stroke-opacity="0.44" stroke-width="0.8"/>
<path d="M311.7 144.5A185 185 0 0 0 325.9 148.8" stroke="#0a0b0d" stroke-opacity="0.48" stroke-width="0.8"/>
<path d="M332.2 150.4A185 185 0 0 0 347.8 153.2" stroke="#7c8290" stroke-opacity="0.44" stroke-width="1.4"/>
<path d="M358.8 154.4A185 185 0 0 0 387.9 154.3" stroke="#b0b6c6" stroke-opacity="0.57" stroke-width="0.8"/>
<path d="M402.8 152.4A185 185 0 0 0 417.7 149.3" stroke="#a0a6b6" stroke-opacity="0.31" stroke-width="1.1"/>
<path d="M419.9 148.7A185 185 0 0 0 428.9 146.1" stroke="#b0b6c6" stroke-opacity="0.44" stroke-width="1.0"/>
<path d="M433.2 144.7A185 185 0 0 0 435.9 143.7" stroke="#b0b6c6" stroke-opacity="0.27" stroke-width="0.9"/>
<path d="M308.2 145.1A187 187 0 0 0 322.4 149.7" stroke="#a0a6b6" stroke-opacity="0.18" stroke-width="1.1"/>
<path d="M327.8 151.1A187 187 0 0 0 348.0 154.9" stroke="#8a90a0" stroke-opacity="0.37" stroke-width="0.7"/>
<path d="M359.1 156.1A187 187 0 0 0 389.9 155.8" stroke="#0a0b0d" stroke-opacity="0.52" stroke-width="1.9"/>
<path d="M396.8 155.0A187 187 0 0 0 402.2 154.2" stroke="#8a90a0" stroke-opacity="0.54" stroke-width="0.9"/>
<path d="M408.4 153.1A187 187 0 0 0 420.1 150.5" stroke="#0a0b0d" stroke-opacity="0.39" stroke-width="1.5"/>
<path d="M434.0 146.2A187 187 0 0 0 436.5 145.3" stroke="#a0a6b6" stroke-opacity="0.22" stroke-width="0.9"/>
<path d="M305.6 146.4A189 189 0 0 0 313.8 149.4" stroke="#b0b6c6" stroke-opacity="0.17" stroke-width="0.7"/>
<path d="M325.5 152.8A189 189 0 0 0 335.9 155.1" stroke="#0a0b0d" stroke-opacity="0.42" stroke-width="1.3"/>
<path d="M341.6 156.2A189 189 0 0 0 370.6 158.8" stroke="#7c8290" stroke-opacity="0.46" stroke-width="0.7"/>
<path d="M375.6 158.7A189 189 0 0 0 404.2 156.1" stroke="#8a90a0" stroke-opacity="0.53" stroke-width="1.5"/>
<path d="M416.7 153.6A189 189 0 0 0 429.5 150.0" stroke="#0a0b0d" stroke-opacity="0.36" stroke-width="1.6"/>
<path d="M309.9 150.7A191 191 0 0 0 338.5 158.2" stroke="#0a0b0d" stroke-opacity="0.33" stroke-width="1.3"/>
<path d="M343.6 159.1A191 191 0 0 0 359.7 160.9" stroke="#7c8290" stroke-opacity="0.34" stroke-width="1.2"/>
<path d="M362.2 161.0A191 191 0 0 0 373.5 161.3" stroke="#a0a6b6" stroke-opacity="0.37" stroke-width="1.2"/>
<path d="M389.1 160.6A191 191 0 0 0 408.7 157.9" stroke="#0a0b0d" stroke-opacity="0.54" stroke-width="1.4"/>
<path d="M421.2 155.1A191 191 0 0 0 433.0 151.6" stroke="#8a90a0" stroke-opacity="0.48" stroke-width="0.7"/>
<path d="M308.4 153.2A194 194 0 0 0 320.7 157.1" stroke="#0a0b0d" stroke-opacity="0.39" stroke-width="1.7"/>
<path d="M327.9 158.9A194 194 0 0 0 358.1 163.6" stroke="#7c8290" stroke-opacity="0.56" stroke-width="1.1"/>
<path d="M360.9 163.8A194 194 0 0 0 373.5 164.2" stroke="#b0b6c6" stroke-opacity="0.38" stroke-width="0.9"/>
<path d="M385.4 163.8A194 194 0 0 0 416.0 159.3" stroke="#0a0b0d" stroke-opacity="0.36" stroke-width="0.9"/>
<path d="M418.1 158.8A194 194 0 0 0 424.3 157.2" stroke="#0a0b0d" stroke-opacity="0.32" stroke-width="0.9"/>
<path d="M433.9 154.3A194 194 0 0 0 439.1 152.5" stroke="#0a0b0d" stroke-opacity="0.42" stroke-width="1.8"/>
<path d="M299.3 152.5A197 197 0 0 0 317.8 158.9" stroke="#a0a6b6" stroke-opacity="0.12" stroke-width="0.8"/>
<path d="M326.5 161.2A197 197 0 0 0 337.9 163.6" stroke="#0a0b0d" stroke-opacity="0.59" stroke-width="0.8"/>
<path d="M347.5 165.1A197 197 0 0 0 368.5 166.7" stroke="#0a0b0d" stroke-opacity="0.32" stroke-width="1.8"/>
<path d="M383.4 166.4A197 197 0 0 0 414.0 162.3" stroke="#0a0b0d" stroke-opacity="0.38" stroke-width="0.9"/>
<path d="M426.1 159.4A197 197 0 0 0 431.5 157.7" stroke="#b0b6c6" stroke-opacity="0.42" stroke-width="1.5"/>
<path d="M296.8 154.5A199 199 0 0 0 319.1 162.2" stroke="#7c8290" stroke-opacity="0.14" stroke-width="0.9"/>
<path d="M328.3 164.5A199 199 0 0 0 352.9 168.5" stroke="#0a0b0d" stroke-opacity="0.41" stroke-width="1.6"/>
<path d="M362.4 169.2A199 199 0 0 0 394.8 168.3" stroke="#0a0b0d" stroke-opacity="0.60" stroke-width="1.8"/>
<path d="M407.9 166.4A199 199 0 0 0 438.3 158.4" stroke="#0a0b0d" stroke-opacity="0.45" stroke-width="1.6"/>
<path d="M302.2 158.4A201 201 0 0 0 318.9 163.8" stroke="#b0b6c6" stroke-opacity="0.15" stroke-width="1.3"/>
<path d="M328.0 166.1A201 201 0 0 0 344.7 169.2" stroke="#7c8290" stroke-opacity="0.31" stroke-width="1.4"/>
<path d="M357.7 170.6A201 201 0 0 0 369.1 171.1" stroke="#b0b6c6" stroke-opacity="0.47" stroke-width="0.7"/>
<path d="M379.7 171.0A201 201 0 0 0 406.9 168.2" stroke="#a0a6b6" stroke-opacity="0.38" stroke-width="1.2"/>
<path d="M412.8 167.1A201 201 0 0 0 424.6 164.3" stroke="#a0a6b6" stroke-opacity="0.34" stroke-width="0.8"/>
<path d="M429.1 163.1A201 201 0 0 0 441.3 159.1" stroke="#a0a6b6" stroke-opacity="0.22" stroke-width="1.2"/>
<path d="M294.0 157.0A203 203 0 0 0 307.0 162.0" stroke="#0a0b0d" stroke-opacity="0.34" stroke-width="1.2"/>
<path d="M319.8 165.9A203 203 0 0 0 325.7 167.4" stroke="#7c8290" stroke-opacity="0.27" stroke-width="1.0"/>
<path d="M335.9 169.6A203 203 0 0 0 367.2 172.8" stroke="#b0b6c6" stroke-opacity="0.51" stroke-width="1.5"/>
<path d="M379.3 172.8A203 203 0 0 0 396.3 171.5" stroke="#a0a6b6" stroke-opacity="0.40" stroke-width="1.4"/>
<path d="M409.0 169.6A203 203 0 0 0 430.4 164.5" stroke="#0a0b0d" stroke-opacity="0.43" stroke-width="1.0"/>
<path d="M295.9 160.9A206 206 0 0 0 317.4 168.2" stroke="#7c8290" stroke-opacity="0.12" stroke-width="1.0"/>
<path d="M323.4 169.8A206 206 0 0 0 339.7 173.1" stroke="#8a90a0" stroke-opacity="0.25" stroke-width="1.3"/>
<path d="M345.6 174.0A206 206 0 0 0 371.3 175.7" stroke="#a0a6b6" stroke-opacity="0.59" stroke-width="0.8"/>
<path d="M373.2 175.7A206 206 0 0 0 404.9 173.2" stroke="#b0b6c6" stroke-opacity="0.44" stroke-width="0.8"/>
<path d="M414.4 171.5A206 206 0 0 0 437.8 165.2" stroke="#a0a6b6" stroke-opacity="0.57" stroke-width="1.4"/>
<path d="M297.1 164.6A209 209 0 0 0 327.0 173.7" stroke="#8a90a0" stroke-opacity="0.21" stroke-width="1.1"/>
<path d="M340.5 176.2A209 209 0 0 0 366.7 178.7" stroke="#7c8290" stroke-opacity="0.17" stroke-width="1.0"/>
<path d="M373.0 178.7A209 209 0 0 0 405.8 176.1" stroke="#7c8290" stroke-opacity="0.34" stroke-width="1.3"/>
<path d="M408.6 175.6A209 209 0 0 0 436.0 168.9" stroke="#0a0b0d" stroke-opacity="0.55" stroke-width="1.7"/>
<path d="M443.9 166.2A209 209 0 0 0 444.1 166.2" stroke="#0a0b0d" stroke-opacity="0.42" stroke-width="1.6"/>
<path d="M302.9 168.8A211 211 0 0 0 308.8 170.8" stroke="#b0b6c6" stroke-opacity="0.18" stroke-width="1.1"/>
<path d="M319.7 173.9A211 211 0 0 0 333.5 177.0" stroke="#0a0b0d" stroke-opacity="0.43" stroke-width="1.2"/>
<path d="M351.6 179.6A211 211 0 0 0 359.2 180.3" stroke="#7c8290" stroke-opacity="0.23" stroke-width="1.3"/>
<path d="M371.8 180.7A211 211 0 0 0 383.9 180.4" stroke="#a0a6b6" stroke-opacity="0.20" stroke-width="0.7"/>
<path d="M398.0 179.2A211 211 0 0 0 407.9 177.7" stroke="#8a90a0" stroke-opacity="0.25" stroke-width="0.6"/>
<path d="M415.4 176.3A211 211 0 0 0 423.7 174.4" stroke="#0a0b0d" stroke-opacity="0.53" stroke-width="0.8"/>
<path d="M440.5 169.5A211 211 0 0 0 444.8 168.0" stroke="#7c8290" stroke-opacity="0.34" stroke-width="1.5"/>
<path d="M295.2 168.0A213 213 0 0 0 321.8 176.4" stroke="#b0b6c6" stroke-opacity="0.21" stroke-width="0.9"/>
<path d="M326.4 177.5A213 213 0 0 0 337.6 179.7" stroke="#0a0b0d" stroke-opacity="0.34" stroke-width="1.6"/>
<path d="M345.3 180.8A213 213 0 0 0 362.7 182.4" stroke="#7c8290" stroke-opacity="0.36" stroke-width="1.4"/>
<path d="M375.3 182.6A213 213 0 0 0 400.7 180.8" stroke="#8a90a0" stroke-opacity="0.18" stroke-width="1.3"/>
<path d="M410.8 179.2A213 213 0 0 0 438.9 172.0" stroke="#b0b6c6" stroke-opacity="0.27" stroke-width="0.9"/>
<path d="M289.3 168.1A215 215 0 0 0 322.5 179.0" stroke="#7c8290" stroke-opacity="0.16" stroke-width="1.1"/>
<path d="M333.0 181.3A215 215 0 0 0 368.1 184.9" stroke="#7c8290" stroke-opacity="0.32" stroke-width="0.9"/>
<path d="M372.6 185.0A215 215 0 0 0 401.6 183.0" stroke="#a0a6b6" stroke-opacity="0.33" stroke-width="1.4"/>
<path d="M419.9 179.7A215 215 0 0 0 428.8 177.5" stroke="#0a0b0d" stroke-opacity="0.54" stroke-width="1.0"/>
<path d="M433.6 176.1A215 215 0 0 0 442.5 173.3" stroke="#7c8290" stroke-opacity="0.23" stroke-width="1.4"/>
<path d="M445.9 172.1A215 215 0 0 0 446.2 172.0" stroke="#0a0b0d" stroke-opacity="0.44" stroke-width="1.4"/>
<path d="M290.4 171.6A218 218 0 0 0 304.2 176.7" stroke="#b0b6c6" stroke-opacity="0.19" stroke-width="1.0"/>
<path d="M316.5 180.4A218 218 0 0 0 329.7 183.5" stroke="#0a0b0d" stroke-opacity="0.53" stroke-width="1.5"/>
<path d="M345.1 186.0A218 218 0 0 0 380.0 187.6" stroke="#7c8290" stroke-opacity="0.20" stroke-width="0.9"/>
<path d="M395.4 186.6A218 218 0 0 0 430.5 180.0" stroke="#7c8290" stroke-opacity="0.18" stroke-width="0.8"/>
</g>

  <g filter="url(#fB1)">
    <path d="M335 84.5 Q372 90.5 414 84.5 L414 88.5 Q372 94.5 335 88.5 Z" fill="#16171a" opacity="0.8"/>
    <path d="M336 122.5 L382 114.5 L382 118 L336 126.5 Z" fill="#060607" opacity="0.9"/>
    <path d="M300 102 L337 102 L336 122 L300 123 Z" fill="#0a0b0d" opacity="0.7"/>
    <path d="M316 125 L346 124.5 L346 131 L314 132.5 Z" fill="#9a9eaa" opacity="0.85"/>
    <path d="M312 137.5 L334 136.5 L332 140.5 L310 142.5 Z" fill="#6a6e78" opacity="0.7"/>
    <path d="M338 134 L412 104 L414 106.2 L340 136.5 Z" fill="#8a96a4" opacity="0.8"/>
    <path d="M352 176 L430 138 L440 150 L440 172 L352 180 Z" fill="#6a6e7c" opacity="0.6" filter="url(#fB3)"/>
    <path d="M345 175 L420 136.5 L420 139.5 L348 178 Z" fill="#0e0f12" opacity="0.8"/>
    <path d="M296 168 L350 172 L345 195 L290 195 Z" fill="#08090b" opacity="0.7" filter="url(#fB2)"/>
    <path d="M378 162 L422 141 L428 145 L384 166 Z" fill="#b0b4c6" opacity="0.8" filter="url(#fB1)"/>
    <path d="M418 135.5 L440 129 L440 132.5 L420 138.5 Z" fill="#b0b4c2" opacity="0.8"/>
    <path d="M362 171 L392 168 L392 171.5 L362 174.5 Z" fill="#8a8e98" opacity="0.7"/>
    <path d="M330 105 L386 105.4 L386 106.4 L330 106.6 Z" fill="#7a8894"/>
    <path d="M295 182 Q372 197 445 182 L445 200 L295 200 Z" fill="#0c0d10" opacity="0.8"/>
  </g>
  <rect x="290" y="55" width="160" height="140" filter="url(#fTex)" opacity="0.15"/>
</g>
<g clip-path="url(#cBox)">
<path d="M316.0 106.0 L319.3 105.8 L322.7 106.1 L326.0 106.0 L329.3 106.2 L332.7 106.3 L336.0 105.9 L339.2 106.0 L342.4 106.8 L345.6 106.5 L348.8 106.7 L352.0 107.3 L355.0 107.1 L358.0 107.5 L361.0 107.3 L364.0 107.6 L367.0 107.3 L370.0 107.8 L373.0 107.8 L376.0 107.4 L379.0 107.3 L382.0 107.0 C385.6 107.0 385.6 113.8 382.5 113.8 L382.5 113.8 L379.4 113.9 L376.2 114.3 L373.1 114.6 L370.0 115.7 L367.0 116.5 L364.0 116.7 L361.0 117.7 L358.0 118.2 L355.0 119.5 L352.0 120.2 L349.0 121.0 L346.0 121.5 L343.0 122.0 L339.3 122.9 L335.7 122.8 L332.0 123.6 L328.8 124.3 L325.6 124.8 L322.4 124.6 L319.2 125.6 L316.0 125.8 Z" fill="#1a0808"/>
<path d="M298.0 152.2 L301.1 151.4 L304.1 149.8 L307.1 148.8 L310.2 147.3 L313.2 146.3 L316.3 145.0 L319.3 143.8 L322.4 142.9 L326.1 141.5 L329.8 140.4 L333.5 138.8 L336.6 137.9 L339.6 136.7 L342.7 135.7 L345.8 134.4 L348.8 132.8 L351.9 132.3 L355.0 131.1 L358.1 129.8 L361.1 128.2 L364.2 127.0 L367.3 125.2 L370.4 124.5 L373.5 122.9 L376.5 121.3 L379.6 119.8 L382.7 119.2 L385.7 118.0 L388.8 115.8 L391.9 115.1 L395.0 113.4 L398.1 111.8 L401.1 110.5 L404.2 109.6 L407.3 108.3 L410.4 106.2 L413.5 105.4 L416.6 103.5 L419.6 102.7 L422.7 101.0 L425.8 100.2 L428.9 98.9 L432.0 97.1 L435.5 96.2 L439.0 94.2 L442.5 92.6 L446.0 91.6 L446.0 124.4 L442.9 125.5 L439.9 126.4 L436.8 128.3 L433.7 129.1 L430.7 129.6 L427.6 130.7 L424.5 132.6 L421.5 133.7 L418.4 134.4 L414.7 137.0 L411.0 138.9 L407.3 141.2 L404.2 142.1 L401.1 144.3 L398.1 145.8 L395.0 146.7 L391.9 148.9 L388.8 150.2 L385.7 151.4 L382.7 153.7 L379.6 155.4 L376.5 157.6 L373.5 158.5 L370.4 160.1 L367.3 162.3 L364.2 163.7 L361.1 165.5 L358.1 167.7 L355.0 169.0 L351.9 170.7 L348.8 171.6 L345.8 172.6 L342.7 173.4 L339.5 174.6 L336.3 175.8 L333.1 177.6 L329.9 178.9 L326.7 179.4 L323.5 181.3 L320.4 181.6 L317.2 183.0 L314.0 184.8 L310.8 185.8 L307.6 186.8 L304.4 187.9 L301.2 189.8 L298.0 190.9 Z" fill="#1a0808"/>
<path d="M316.0 106.5 L319.3 106.3 L322.7 106.6 L326.0 106.5 L329.3 106.7 L332.7 106.8 L336.0 106.4 L339.2 106.5 L342.4 107.3 L345.6 107.0 L348.8 107.2 L352.0 107.8 L355.0 107.6 L358.0 108.0 L361.0 107.8 L364.0 108.1 L367.0 107.8 L370.0 108.3 L373.0 108.3 L376.0 107.9 L379.0 107.8 L382.0 107.5 C385.1 107.5 385.1 113.3 382.5 113.3 L382.5 113.3 L379.4 113.4 L376.2 113.8 L373.1 114.1 L370.0 115.2 L367.0 116.0 L364.0 116.2 L361.0 117.2 L358.0 117.7 L355.0 119.0 L352.0 119.7 L349.0 120.5 L346.0 121.0 L343.0 121.5 L339.3 122.4 L335.7 122.3 L332.0 123.1 L328.8 123.8 L325.6 124.3 L322.4 124.1 L319.2 125.1 L316.0 125.3 Z" fill="#e02418"/>
<path d="M298.0 152.7 L301.1 151.9 L304.1 150.3 L307.1 149.3 L310.2 147.8 L313.2 146.8 L316.3 145.5 L319.3 144.3 L322.4 143.4 L326.1 142.0 L329.8 140.9 L333.5 139.3 L336.6 138.4 L339.6 137.2 L342.7 136.2 L345.8 134.9 L348.8 133.3 L351.9 132.8 L355.0 131.6 L358.1 130.3 L361.1 128.7 L364.2 127.5 L367.3 125.7 L370.4 125.0 L373.5 123.4 L376.5 121.8 L379.6 120.3 L382.7 119.7 L385.7 118.5 L388.8 116.3 L391.9 115.6 L395.0 113.9 L398.1 112.3 L401.1 111.0 L404.2 110.1 L407.3 108.8 L410.4 106.7 L413.5 105.9 L416.6 104.0 L419.6 103.2 L422.7 101.5 L425.8 100.7 L428.9 99.4 L432.0 97.6 L435.5 96.7 L439.0 94.7 L442.5 93.1 L446.0 92.1 L446.0 123.9 L442.9 125.0 L439.9 125.9 L436.8 127.8 L433.7 128.6 L430.7 129.1 L427.6 130.2 L424.5 132.1 L421.5 133.2 L418.4 133.9 L414.7 136.5 L411.0 138.4 L407.3 140.7 L404.2 141.6 L401.1 143.8 L398.1 145.3 L395.0 146.2 L391.9 148.4 L388.8 149.7 L385.7 150.9 L382.7 153.2 L379.6 154.9 L376.5 157.1 L373.5 158.0 L370.4 159.6 L367.3 161.8 L364.2 163.2 L361.1 165.0 L358.1 167.2 L355.0 168.5 L351.9 170.2 L348.8 171.1 L345.8 172.1 L342.7 172.9 L339.5 174.1 L336.3 175.3 L333.1 177.1 L329.9 178.4 L326.7 178.9 L323.5 180.8 L320.4 181.1 L317.2 182.5 L314.0 184.3 L310.8 185.3 L307.6 186.3 L304.4 187.4 L301.2 189.3 L298.0 190.4 Z" fill="#e02418"/>
<g filter="url(#fB07)">
<path d="M316.0 107.5 L319.3 107.3 L322.7 107.6 L326.0 107.5 L329.3 107.7 L332.7 107.8 L336.0 107.4 L339.2 107.5 L342.4 108.3 L345.6 108.0 L348.8 108.2 L352.0 108.8 L355.0 108.6 L358.0 109.0 L361.0 108.8 L364.0 109.1 L367.0 108.8 L370.0 109.3 L373.0 109.3 L376.0 108.9 L379.0 108.8 L382.0 108.5 C384.1 108.5 384.1 112.3 382.5 112.3 L382.5 112.3 L379.4 112.4 L376.2 112.8 L373.1 113.1 L370.0 114.2 L367.0 115.0 L364.0 115.2 L361.0 116.2 L358.0 116.7 L355.0 118.0 L352.0 118.7 L349.0 119.5 L346.0 120.0 L343.0 120.5 L339.3 121.4 L335.7 121.3 L332.0 122.1 L328.8 122.8 L325.6 123.3 L322.4 123.1 L319.2 124.1 L316.0 124.3 Z" fill="#e0601c"/>
<path d="M298.0 154.1 L301.1 153.3 L304.1 151.7 L307.1 150.7 L310.2 149.2 L313.2 148.2 L316.3 146.9 L319.3 145.7 L322.4 144.8 L326.1 143.4 L329.8 142.3 L333.5 140.7 L336.6 139.8 L339.6 138.6 L342.7 137.6 L345.8 136.3 L348.8 134.7 L351.9 134.2 L355.0 133.0 L358.1 131.7 L361.1 130.1 L364.2 128.9 L367.3 127.1 L370.4 126.4 L373.5 124.8 L376.5 123.2 L379.6 121.7 L382.7 121.1 L385.7 119.9 L388.8 117.7 L391.9 117.0 L395.0 115.3 L398.1 113.7 L401.1 112.4 L404.2 111.5 L407.3 110.2 L410.4 108.1 L413.5 107.3 L416.6 105.4 L419.6 104.6 L422.7 102.9 L425.8 102.1 L428.9 100.8 L432.0 99.0 L435.5 98.1 L439.0 96.1 L442.5 94.5 L446.0 93.5 L446.0 122.5 L442.9 123.6 L439.9 124.5 L436.8 126.4 L433.7 127.2 L430.7 127.7 L427.6 128.8 L424.5 130.7 L421.5 131.8 L418.4 132.5 L414.7 135.1 L411.0 137.0 L407.3 139.3 L404.2 140.2 L401.1 142.4 L398.1 143.9 L395.0 144.8 L391.9 147.0 L388.8 148.3 L385.7 149.5 L382.7 151.8 L379.6 153.5 L376.5 155.7 L373.5 156.6 L370.4 158.2 L367.3 160.4 L364.2 161.8 L361.1 163.6 L358.1 165.8 L355.0 167.1 L351.9 168.8 L348.8 169.7 L345.8 170.7 L342.7 171.5 L339.5 172.7 L336.3 173.9 L333.1 175.7 L329.9 177.0 L326.7 177.5 L323.5 179.4 L320.4 179.7 L317.2 181.1 L314.0 182.9 L310.8 183.9 L307.6 184.9 L304.4 186.0 L301.2 187.9 L298.0 189.0 Z" fill="#e0601c"/>
</g>
<g filter="url(#fB2)">
<path d="M316.0 108.4 L319.3 108.2 L322.7 108.5 L326.0 108.4 L329.3 108.6 L332.7 108.7 L336.0 108.3 L339.2 108.4 L342.4 109.2 L345.6 108.9 L348.8 109.1 L352.0 109.7 L355.0 109.5 L358.0 109.9 L361.0 109.7 L364.0 110.0 L367.0 109.7 L370.0 110.2 L373.0 110.2 L376.0 109.8 L379.0 109.7 L382.0 109.4 C383.2 109.4 383.2 111.4 382.5 111.4 L382.5 111.4 L379.4 111.5 L376.2 111.9 L373.1 112.2 L370.0 113.3 L367.0 114.1 L364.0 114.3 L361.0 115.3 L358.0 115.8 L355.0 117.1 L352.0 117.8 L349.0 118.6 L346.0 119.1 L343.0 119.6 L339.3 120.5 L335.7 120.4 L332.0 121.2 L328.8 121.9 L325.6 122.4 L322.4 122.2 L319.2 123.2 L316.0 123.4 Z" fill="url(#gVes2)"/>
<path d="M298.0 156.2 L301.1 155.4 L304.1 153.8 L307.1 152.8 L310.2 151.3 L313.2 150.3 L316.3 149.0 L319.3 147.8 L322.4 146.9 L326.1 145.5 L329.8 144.4 L333.5 142.8 L336.6 141.9 L339.6 140.7 L342.7 139.7 L345.8 138.4 L348.8 136.8 L351.9 136.3 L355.0 135.1 L358.1 133.8 L361.1 132.2 L364.2 131.0 L367.3 129.2 L370.4 128.5 L373.5 126.9 L376.5 125.3 L379.6 123.8 L382.7 123.2 L385.7 122.0 L388.8 119.8 L391.9 119.1 L395.0 117.4 L398.1 115.8 L401.1 114.5 L404.2 113.6 L407.3 112.3 L410.4 110.2 L413.5 109.4 L416.6 107.5 L419.6 106.7 L422.7 105.0 L425.8 104.2 L428.9 102.9 L432.0 101.1 L435.5 100.2 L439.0 98.2 L442.5 96.6 L446.0 95.6 L446.0 120.4 L442.9 121.5 L439.9 122.4 L436.8 124.3 L433.7 125.1 L430.7 125.6 L427.6 126.7 L424.5 128.6 L421.5 129.7 L418.4 130.4 L414.7 133.0 L411.0 134.9 L407.3 137.2 L404.2 138.1 L401.1 140.3 L398.1 141.8 L395.0 142.7 L391.9 144.9 L388.8 146.2 L385.7 147.4 L382.7 149.7 L379.6 151.4 L376.5 153.6 L373.5 154.5 L370.4 156.1 L367.3 158.3 L364.2 159.7 L361.1 161.5 L358.1 163.7 L355.0 165.0 L351.9 166.7 L348.8 167.6 L345.8 168.6 L342.7 169.4 L339.5 170.6 L336.3 171.8 L333.1 173.6 L329.9 174.9 L326.7 175.4 L323.5 177.3 L320.4 177.6 L317.2 179.0 L314.0 180.8 L310.8 181.8 L307.6 182.8 L304.4 183.9 L301.2 185.8 L298.0 186.9 Z" fill="url(#gVes)"/>
</g>
<clipPath id="cVes"><path d="M316.0 107.9 L319.3 107.7 L322.7 108.0 L326.0 107.9 L329.3 108.1 L332.7 108.2 L336.0 107.8 L339.2 107.9 L342.4 108.7 L345.6 108.4 L348.8 108.6 L352.0 109.2 L355.0 109.0 L358.0 109.4 L361.0 109.2 L364.0 109.5 L367.0 109.2 L370.0 109.7 L373.0 109.7 L376.0 109.3 L379.0 109.2 L382.0 108.9 C383.7 108.9 383.7 111.9 382.5 111.9 L382.5 111.9 L379.4 112.0 L376.2 112.4 L373.1 112.7 L370.0 113.8 L367.0 114.6 L364.0 114.8 L361.0 115.8 L358.0 116.3 L355.0 117.6 L352.0 118.3 L349.0 119.1 L346.0 119.6 L343.0 120.1 L339.3 121.0 L335.7 120.9 L332.0 121.7 L328.8 122.4 L325.6 122.9 L322.4 122.7 L319.2 123.7 L316.0 123.9 Z"/><path d="M298.0 154.1 L301.1 153.3 L304.1 151.7 L307.1 150.7 L310.2 149.2 L313.2 148.2 L316.3 146.9 L319.3 145.7 L322.4 144.8 L326.1 143.4 L329.8 142.3 L333.5 140.7 L336.6 139.8 L339.6 138.6 L342.7 137.6 L345.8 136.3 L348.8 134.7 L351.9 134.2 L355.0 133.0 L358.1 131.7 L361.1 130.1 L364.2 128.9 L367.3 127.1 L370.4 126.4 L373.5 124.8 L376.5 123.2 L379.6 121.7 L382.7 121.1 L385.7 119.9 L388.8 117.7 L391.9 117.0 L395.0 115.3 L398.1 113.7 L401.1 112.4 L404.2 111.5 L407.3 110.2 L410.4 108.1 L413.5 107.3 L416.6 105.4 L419.6 104.6 L422.7 102.9 L425.8 102.1 L428.9 100.8 L432.0 99.0 L435.5 98.1 L439.0 96.1 L442.5 94.5 L446.0 93.5 L446.0 122.5 L442.9 123.6 L439.9 124.5 L436.8 126.4 L433.7 127.2 L430.7 127.7 L427.6 128.8 L424.5 130.7 L421.5 131.8 L418.4 132.5 L414.7 135.1 L411.0 137.0 L407.3 139.3 L404.2 140.2 L401.1 142.4 L398.1 143.9 L395.0 144.8 L391.9 147.0 L388.8 148.3 L385.7 149.5 L382.7 151.8 L379.6 153.5 L376.5 155.7 L373.5 156.6 L370.4 158.2 L367.3 160.4 L364.2 161.8 L361.1 163.6 L358.1 165.8 L355.0 167.1 L351.9 168.8 L348.8 169.7 L345.8 170.7 L342.7 171.5 L339.5 172.7 L336.3 173.9 L333.1 175.7 L329.9 177.0 L326.7 177.5 L323.5 179.4 L320.4 179.7 L317.2 181.1 L314.0 182.9 L310.8 183.9 L307.6 184.9 L304.4 186.0 L301.2 187.9 L298.0 189.0 Z"/></clipPath>
<g clip-path="url(#cVes)"><rect x="300" y="95" width="146" height="100" filter="url(#fVTex)" opacity="0.08"/></g>
<circle cx="387.9" cy="107.8" r="2.1" fill="#140606"/><circle cx="387.9" cy="107.8" r="1.6" fill="#c41418"/>

  <path d="M319.5 150 L323 148.5 L322.5 155.5 L319 157 Z" fill="#5ac0ec" filter="url(#fB07)"/>
  <path d="M317.5 160.5 L321 159.5 L320.5 165.5 L317 166.5 Z" fill="#60c4ee" filter="url(#fB07)"/>
</g>
<g fill="none" stroke="#c0c0c0" stroke-width="0.9">
  <path d="M339.3 90.5 A125 125 0 0 0 407.3 89.6 L430.1 167.7 A205.5 205.5 0 0 1 317 167.7 Z"/>
  <path d="M352.3 64 L325.5 183.4" stroke-width="1"/>
  <path d="M322.5 159.2 L341.1 152.4" stroke="#a8a8a0" stroke-width="1.2"/>
  <path d="M328.5 154.5 L334 152.6 M331 157.2 L336.5 155.3" stroke="#a8a8a0" stroke-width="0.9"/>
</g>
<!-- orientation marker -->
<path d="M301.7 64.9 Q301.7 63.3 303.3 63.3 H311.1 V71 H308.7 V65.8 H304.2 V68.9 H306.6 V71 H303.3 Q301.7 71 301.7 69.4 Z" fill="#e4e4e4"/>
<!-- depth arrow -->
<path d="M267.2 145 L271.3 148 L267.2 150.8 L268.6 148 Z" fill="#e8e8e8"/>
<!-- velocity icon -->
<g fill="none" stroke="#d8d8d8" stroke-width="1.2">
  <path d="M135 49.5 Q136.5 47.8 138 49.4 Q139.5 51.3 141 49.2"/>
  <path d="M135 52.4 H141 M135 54.5 H141"/>
</g>

<!-- left color bars -->
<rect x="135" y="67.5" width="5" height="44" fill="url(#gRed)"/>
<rect x="135" y="111.5" width="5" height="43" fill="url(#gBlue)"/>
<rect x="135" y="183" width="5" height="85" fill="url(#gGray)"/>

<g fill="#bbb" font-size="7">
  <text x="134.5" y="66.8" textLength="12" lengthAdjust="spacingAndGlyphs">36.1</text>
  <text x="134.5" y="163" textLength="12" lengthAdjust="spacingAndGlyphs">36.1</text>
  <text x="134.5" y="170.5" textLength="12.5" lengthAdjust="spacingAndGlyphs">cm/s</text>
</g>

<!-- depth ruler -->
<g fill="#ddd">
  <rect x="273" y="65" width="4.5" height="2"/>
  <rect x="273" y="85.5" width="4.5" height="2"/>
  <rect x="273" y="106" width="4.5" height="2"/>
  <rect x="273" y="126.5" width="4.5" height="2"/>
  <rect x="273" y="147" width="4.5" height="2"/>
  <rect x="273" y="167.5" width="4.5" height="2"/>
  <rect x="273" y="188" width="4.5" height="2"/>
  <rect x="273.3" y="75.6" width="1.8" height="1.8" fill="#b8b8b8"/>
  <rect x="273.3" y="96.1" width="1.8" height="1.8" fill="#b8b8b8"/>
  <rect x="273.3" y="116.6" width="1.8" height="1.8" fill="#b8b8b8"/>
  <rect x="273.3" y="137.1" width="1.8" height="1.8" fill="#b8b8b8"/>
  <rect x="273.3" y="157.6" width="1.8" height="1.8" fill="#b8b8b8"/>
  <rect x="273.3" y="178.1" width="1.8" height="1.8" fill="#b8b8b8"/>
</g>
<text x="279" y="196" fill="#bbb" font-size="8.5">6cm</text>
<text x="328.3" y="196.6" fill="#bbb" font-size="8.8">46 mm</text>
<text x="369" y="196.6" fill="#bbb" font-size="8.8">58°</text>

<!-- right text -->
<g font-size="8.4" text-anchor="end" fill="#c0c0c0">
  <text x="634.3" y="55.6" fill="#eee" textLength="14.6" lengthAdjust="spacingAndGlyphs">5C1</text>
  <text x="634.3" y="65.1" fill="#eee" textLength="38.9" lengthAdjust="spacingAndGlyphs">Abdomen</text>
  <text x="634.3" y="74.6" textLength="32.4" lengthAdjust="spacingAndGlyphs">TIB 2.41</text>
  <text x="634.3" y="84.1" textLength="31.5" lengthAdjust="spacingAndGlyphs">TIC 1.19</text>
  <text x="634.3" y="93.6" textLength="31.5" lengthAdjust="spacingAndGlyphs">TIS 0.61</text>
  <text x="634.3" y="103.1" textLength="30.2" lengthAdjust="spacingAndGlyphs">MI 0.49</text>
  <text x="634.3" y="112.6" textLength="23.4" lengthAdjust="spacingAndGlyphs">26 fps</text>
  <text x="634.3" y="122.1" textLength="16.9" lengthAdjust="spacingAndGlyphs">98%</text>
  <text x="634.3" y="136.8" fill="#fff" font-weight="bold" textLength="12.0" lengthAdjust="spacingAndGlyphs">2D</text>
  <text x="634.3" y="146.1" textLength="28.2" lengthAdjust="spacingAndGlyphs">H High</text>
  <text x="634.3" y="155.7" textLength="38.5" lengthAdjust="spacingAndGlyphs">TEQ -3 dB</text>
  <text x="634.3" y="165.3" textLength="22.8" lengthAdjust="spacingAndGlyphs">DR 60</text>
  <text x="634.3" y="174.6" textLength="18.5" lengthAdjust="spacingAndGlyphs">LD 3</text>
  <text x="634.3" y="183.6" textLength="19.8" lengthAdjust="spacingAndGlyphs">UA 3</text>
  <text x="634.3" y="198.3" fill="#fff" font-weight="bold" textLength="6.0" lengthAdjust="spacingAndGlyphs">C</text>
  <text x="634.3" y="207.6" textLength="20.3" lengthAdjust="spacingAndGlyphs">High</text>
  <text x="634.3" y="217.3" textLength="20.5" lengthAdjust="spacingAndGlyphs">-5 dB</text>
  <text x="634.3" y="226.4" textLength="36.4" lengthAdjust="spacingAndGlyphs">PRF 3125</text>
  <text x="634.3" y="236" textLength="21.5" lengthAdjust="spacingAndGlyphs">Aorta</text>
  <text x="634.3" y="250.1" fill="#fff" font-weight="bold" textLength="13.6" lengthAdjust="spacingAndGlyphs">PW</text>
  <text x="634.3" y="259.6" textLength="16.4" lengthAdjust="spacingAndGlyphs">Mid</text>
  <text x="634.3" y="269.2" textLength="26.0" lengthAdjust="spacingAndGlyphs">-12 dB</text>
  <text x="634.3" y="279" textLength="35.4" lengthAdjust="spacingAndGlyphs">DR 75 dB</text>
  <text x="634.3" y="288.2" textLength="36.4" lengthAdjust="spacingAndGlyphs">PRF 3185</text>
  <text x="634.3" y="298.1" textLength="17.0" lengthAdjust="spacingAndGlyphs">F 48</text>
  <text x="634.3" y="307.6" textLength="44.0" lengthAdjust="spacingAndGlyphs">GS 1.0 mm</text>
</g>

<!-- doppler spectrum -->
<defs>
  <filter id="fSpk" x="-10%" y="-10%" width="120%" height="120%" color-interpolation-filters="sRGB">
    <feTurbulence type="fractalNoise" baseFrequency="0.55 0.2" numOctaves="2" seed="9" result="n"/>
    <feColorMatrix in="n" type="matrix" values="0 0 0 0 0  0 0 0 0 0  0 0 0 0 0  0 0 0 3.0 -0.7" result="na"/>
    <feComposite in="SourceGraphic" in2="na" operator="in" result="c"/>
    <feGaussianBlur in="c" stdDeviation="0.65"/>
  </filter>
  <filter id="fSpk2" x="-10%" y="-10%" width="120%" height="120%" color-interpolation-filters="sRGB">
    <feTurbulence type="fractalNoise" baseFrequency="0.3 0.12" numOctaves="2" seed="31" result="n"/>
    <feColorMatrix in="n" type="matrix" values="0 0 0 0 0  0 0 0 0 0  0 0 0 0 0  0 0 0 4 -1.9" result="na"/>
    <feComposite in="SourceGraphic" in2="na" operator="in" result="c"/>
    <feGaussianBlur in="c" stdDeviation="0.7"/>
  </filter>
  <filter id="fSoft" x="-20%" y="-20%" width="140%" height="140%"><feGaussianBlur stdDeviation="0.6"/></filter>
</defs>
<g id="spectrum">
<g filter="url(#fSpk)">
<path d="M228.8 308.5 L230.2 280.2 L232.0 252.3 L233.2 240.9 L235.4 240.9 L238.4 252.3 L241.4 265.3 L245.4 282.2 L251.0 305.5 L246.5 307.5 L233.5 308.5 Z" fill="#1aaed8"/>
<path d="M228.8 308.5 L233.4 240.9 L232.4 262.3 L231.0 308.5 Z" fill="#30d4ee"/>
</g>
<path d="M228.8 308.5 L230.2 280.2 L232.0 252.3 L233.2 240.9 L235.4 240.9 L238.4 252.3 L241.4 265.3 L245.4 282.2 L251.0 305.5 L246.5 307.5 L233.5 308.5 Z" fill="#0a4a74" opacity="0.7" filter="url(#fSpk2)"/>
<path d="M232.4 309.5 L234.0 278.2 L236.2 270.2 L239.4 282.2 L247.2 309.5 Z" fill="#000" opacity="0.92" filter="url(#fSoft)"/>
<g filter="url(#fSpk)">
<ellipse cx="232.6" cy="304" rx="3" ry="4.2" fill="#38e0f0"/>
<path d="M251.5 311.8 L253.5 321.0 L255.0 328.5 L257.5 327.0 L261.0 318.0 L264.0 311.8 L261.0 311.8 L257.0 318.0 L255.0 311.8 Z" fill="#1cc0e0"/>
</g>
<path d="M251.0 312 L255.0 329 L262.0 312 Z" fill="#0a5a8a" opacity="0.6" filter="url(#fSpk)"/>
<rect x="226.1" y="313.5" width="2.7" height="1.4" fill="#1a6aa0" opacity="0.6"/>
<rect x="244.7" y="313.5" width="2.9" height="1.4" fill="#1a6aa0" opacity="0.6"/>
<rect x="191.7" y="312.9" width="2.9" height="1.4" fill="#1a6aa0" opacity="0.6"/>
<rect x="227.6" y="313.8" width="1.7" height="1.4" fill="#1a6aa0" opacity="0.6"/>
<g filter="url(#fSpk)">
<path d="M314.2 308.5 L315.6 279.5 L317.4 251.0 L318.6 239.3 L320.8 239.3 L323.8 251.0 L326.8 264.2 L330.8 281.5 L336.4 305.5 L331.9 307.5 L318.9 308.5 Z" fill="#1aaed8"/>
<path d="M314.2 308.5 L318.8 239.3 L317.8 261.2 L316.4 308.5 Z" fill="#30d4ee"/>
</g>
<path d="M314.2 308.5 L315.6 279.5 L317.4 251.0 L318.6 239.3 L320.8 239.3 L323.8 251.0 L326.8 264.2 L330.8 281.5 L336.4 305.5 L331.9 307.5 L318.9 308.5 Z" fill="#0a4a74" opacity="0.7" filter="url(#fSpk2)"/>
<path d="M317.8 309.5 L319.4 277.5 L321.6 269.3 L324.8 281.5 L332.6 309.5 Z" fill="#000" opacity="0.92" filter="url(#fSoft)"/>
<g filter="url(#fSpk)">
<ellipse cx="318.0" cy="304" rx="3" ry="4.2" fill="#38e0f0"/>
<path d="M336.9 311.8 L338.9 321.0 L340.4 328.5 L342.9 327.0 L346.4 318.0 L349.4 311.8 L346.4 311.8 L342.4 318.0 L340.4 311.8 Z" fill="#1cc0e0"/>
</g>
<path d="M336.4 312 L340.4 329 L347.4 312 Z" fill="#0a5a8a" opacity="0.6" filter="url(#fSpk)"/>
<rect x="302.6" y="312.5" width="2.3" height="1.4" fill="#1a6aa0" opacity="0.6"/>
<rect x="308.7" y="312.0" width="1.8" height="1.4" fill="#1a6aa0" opacity="0.6"/>
<rect x="291.6" y="313.8" width="2.6" height="1.4" fill="#1a6aa0" opacity="0.6"/>
<rect x="284.7" y="313.6" width="1.7" height="1.4" fill="#1a6aa0" opacity="0.6"/>
<g filter="url(#fSpk)">
<path d="M400.1 308.5 L401.5 278.1 L403.3 248.3 L404.5 236.0 L406.7 236.0 L409.7 248.3 L412.7 262.1 L416.7 280.2 L422.3 305.5 L417.8 307.5 L404.8 308.5 Z" fill="#1aaed8"/>
<path d="M400.1 308.5 L404.7 236.0 L403.7 258.9 L402.3 308.5 Z" fill="#30d4ee"/>
</g>
<path d="M400.1 308.5 L401.5 278.1 L403.3 248.3 L404.5 236.0 L406.7 236.0 L409.7 248.3 L412.7 262.1 L416.7 280.2 L422.3 305.5 L417.8 307.5 L404.8 308.5 Z" fill="#0a4a74" opacity="0.7" filter="url(#fSpk2)"/>
<path d="M403.7 309.5 L405.3 275.9 L407.5 267.4 L410.7 280.2 L418.5 309.5 Z" fill="#000" opacity="0.92" filter="url(#fSoft)"/>
<g filter="url(#fSpk)">
<ellipse cx="403.9" cy="304" rx="3" ry="4.2" fill="#38e0f0"/>
<path d="M422.8 311.8 L424.8 321.0 L426.3 328.5 L428.8 327.0 L432.3 318.0 L435.3 311.8 L432.3 311.8 L428.3 318.0 L426.3 311.8 Z" fill="#1cc0e0"/>
</g>
<path d="M422.3 312 L426.3 329 L433.3 312 Z" fill="#0a5a8a" opacity="0.6" filter="url(#fSpk)"/>
<rect x="397.1" y="312.3" width="1.5" height="1.4" fill="#1a6aa0" opacity="0.6"/>
<rect x="411.8" y="312.4" width="1.8" height="1.4" fill="#1a6aa0" opacity="0.6"/>
<rect x="418.3" y="313.7" width="1.9" height="1.4" fill="#1a6aa0" opacity="0.6"/>
<rect x="417.1" y="313.1" width="2.5" height="1.4" fill="#1a6aa0" opacity="0.6"/>
<g filter="url(#fSpk)">
<path d="M486.1 308.5 L487.5 279.1 L489.3 250.3 L490.5 238.5 L492.7 238.5 L495.7 250.3 L498.7 263.7 L502.7 281.2 L508.3 305.5 L503.8 307.5 L490.8 308.5 Z" fill="#1aaed8"/>
<path d="M486.1 308.5 L490.7 238.5 L489.7 260.6 L488.3 308.5 Z" fill="#30d4ee"/>
</g>
<path d="M486.1 308.5 L487.5 279.1 L489.3 250.3 L490.5 238.5 L492.7 238.5 L495.7 250.3 L498.7 263.7 L502.7 281.2 L508.3 305.5 L503.8 307.5 L490.8 308.5 Z" fill="#0a4a74" opacity="0.7" filter="url(#fSpk2)"/>
<path d="M489.7 309.5 L491.3 277.1 L493.5 268.9 L496.7 281.2 L504.5 309.5 Z" fill="#000" opacity="0.92" filter="url(#fSoft)"/>
<g filter="url(#fSpk)">
<ellipse cx="489.9" cy="304" rx="3" ry="4.2" fill="#38e0f0"/>
<path d="M508.8 311.8 L510.8 321.0 L512.3 328.5 L514.8 327.0 L518.3 318.0 L521.3 311.8 L518.3 311.8 L514.3 318.0 L512.3 311.8 Z" fill="#1cc0e0"/>
</g>
<path d="M508.3 312 L512.3 329 L519.3 312 Z" fill="#0a5a8a" opacity="0.6" filter="url(#fSpk)"/>
<rect x="459.2" y="313.9" width="2.5" height="1.4" fill="#1a6aa0" opacity="0.6"/>
<rect x="503.4" y="313.8" width="1.9" height="1.4" fill="#1a6aa0" opacity="0.6"/>
<rect x="468.2" y="312.3" width="1.7" height="1.4" fill="#1a6aa0" opacity="0.6"/>
<rect x="451.1" y="312.6" width="2.4" height="1.4" fill="#1a6aa0" opacity="0.6"/>
<path d="M180.5 308 C181.5 302 184.5 300.5 188.5 300.5 C192.5 300.5 196.0 302 197.5 308 Z" fill="#0a5a88" opacity="0.45" filter="url(#fSoft)"/>
<g filter="url(#fSpk)">
<ellipse cx="182.8" cy="304" rx="1.8" ry="4.0" transform="rotate(28 182.8 304)" fill="#22c4e4"/>
<ellipse cx="186.2" cy="302.6" rx="2.0" ry="4.4" transform="rotate(28 186.2 302.6)" fill="#22c4e4"/>
<ellipse cx="190.0" cy="302.4" rx="2.0" ry="4.4" transform="rotate(28 190.0 302.4)" fill="#22c4e4"/>
<ellipse cx="193.6" cy="303.2" rx="1.9" ry="4.2" transform="rotate(28 193.6 303.2)" fill="#22c4e4"/>
<ellipse cx="196.2" cy="304.8" rx="1.5" ry="3.2" transform="rotate(28 196.2 304.8)" fill="#22c4e4"/>
</g>
<path d="M265.5 308 C266.5 302 269.5 300.5 273.5 300.5 C277.5 300.5 281.0 302 282.5 308 Z" fill="#0a5a88" opacity="0.45" filter="url(#fSoft)"/>
<g filter="url(#fSpk)">
<ellipse cx="267.8" cy="304" rx="1.8" ry="4.0" transform="rotate(28 267.8 304)" fill="#22c4e4"/>
<ellipse cx="271.2" cy="302.6" rx="2.0" ry="4.4" transform="rotate(28 271.2 302.6)" fill="#22c4e4"/>
<ellipse cx="275.0" cy="302.4" rx="2.0" ry="4.4" transform="rotate(28 275.0 302.4)" fill="#22c4e4"/>
<ellipse cx="278.6" cy="303.2" rx="1.9" ry="4.2" transform="rotate(28 278.6 303.2)" fill="#22c4e4"/>
<ellipse cx="281.2" cy="304.8" rx="1.5" ry="3.2" transform="rotate(28 281.2 304.8)" fill="#22c4e4"/>
</g>
<path d="M351.0 308 C352.0 302 355.0 300.5 359.0 300.5 C363.0 300.5 366.5 302 368.0 308 Z" fill="#0a5a88" opacity="0.45" filter="url(#fSoft)"/>
<g filter="url(#fSpk)">
<ellipse cx="353.3" cy="304" rx="1.8" ry="4.0" transform="rotate(28 353.3 304)" fill="#22c4e4"/>
<ellipse cx="356.7" cy="302.6" rx="2.0" ry="4.4" transform="rotate(28 356.7 302.6)" fill="#22c4e4"/>
<ellipse cx="360.5" cy="302.4" rx="2.0" ry="4.4" transform="rotate(28 360.5 302.4)" fill="#22c4e4"/>
<ellipse cx="364.1" cy="303.2" rx="1.9" ry="4.2" transform="rotate(28 364.1 303.2)" fill="#22c4e4"/>
<ellipse cx="366.7" cy="304.8" rx="1.5" ry="3.2" transform="rotate(28 366.7 304.8)" fill="#22c4e4"/>
</g>
<path d="M438.5 308 C439.5 302 442.5 300.5 446.5 300.5 C450.5 300.5 454.0 302 455.5 308 Z" fill="#0a5a88" opacity="0.45" filter="url(#fSoft)"/>
<g filter="url(#fSpk)">
<ellipse cx="440.8" cy="304" rx="1.8" ry="4.0" transform="rotate(28 440.8 304)" fill="#22c4e4"/>
<ellipse cx="444.2" cy="302.6" rx="2.0" ry="4.4" transform="rotate(28 444.2 302.6)" fill="#22c4e4"/>
<ellipse cx="448.0" cy="302.4" rx="2.0" ry="4.4" transform="rotate(28 448.0 302.4)" fill="#22c4e4"/>
<ellipse cx="451.6" cy="303.2" rx="1.9" ry="4.2" transform="rotate(28 451.6 303.2)" fill="#22c4e4"/>
<ellipse cx="454.2" cy="304.8" rx="1.5" ry="3.2" transform="rotate(28 454.2 304.8)" fill="#22c4e4"/>
</g>
<path d="M523.5 308 C524.5 302 527.5 300.5 531.5 300.5 C535.5 300.5 539.0 302 540.5 308 Z" fill="#0a5a88" opacity="0.45" filter="url(#fSoft)"/>
<g filter="url(#fSpk)">
<ellipse cx="525.8" cy="304" rx="1.8" ry="4.0" transform="rotate(28 525.8 304)" fill="#22c4e4"/>
<ellipse cx="529.2" cy="302.6" rx="2.0" ry="4.4" transform="rotate(28 529.2 302.6)" fill="#22c4e4"/>
<ellipse cx="533.0" cy="302.4" rx="2.0" ry="4.4" transform="rotate(28 533.0 302.4)" fill="#22c4e4"/>
<ellipse cx="536.6" cy="303.2" rx="1.9" ry="4.2" transform="rotate(28 536.6 303.2)" fill="#22c4e4"/>
<ellipse cx="539.2" cy="304.8" rx="1.5" ry="3.2" transform="rotate(28 539.2 304.8)" fill="#22c4e4"/>
</g>
<rect x="553.5" y="311.5" width="3" height="2" fill="#1a8ac0"/>
</g>
<!-- /doppler spectrum -->
<!-- doppler baseline & scale -->
<rect x="181" y="309" width="383" height="2" fill="#d8d8d8"/>
<g id="vticks">
<rect x="562" y="203.2" width="2" height="1.8" fill="#8c8c8c"/>
<rect x="562" y="211.3" width="2" height="1.8" fill="#8c8c8c"/>
<rect x="562" y="219.5" width="2" height="1.8" fill="#8c8c8c"/>
<rect x="559.5" y="227.6" width="4.5" height="2" fill="#c8c8c8"/>
<rect x="562" y="235.7" width="2" height="1.8" fill="#8c8c8c"/>
<rect x="562" y="243.9" width="2" height="1.8" fill="#8c8c8c"/>
<rect x="562" y="252.0" width="2" height="1.8" fill="#8c8c8c"/>
<rect x="562" y="260.2" width="2" height="1.8" fill="#8c8c8c"/>
<rect x="559.5" y="268.3" width="4.5" height="2" fill="#c8c8c8"/>
<rect x="562" y="276.4" width="2" height="1.8" fill="#8c8c8c"/>
<rect x="562" y="284.6" width="2" height="1.8" fill="#8c8c8c"/>
<rect x="562" y="292.7" width="2" height="1.8" fill="#8c8c8c"/>
<rect x="562" y="300.9" width="2" height="1.8" fill="#8c8c8c"/>
<rect x="562" y="317.1" width="2" height="1.8" fill="#8c8c8c"/>
<rect x="562" y="325.3" width="2" height="1.8" fill="#8c8c8c"/>
<rect x="562" y="333.4" width="2" height="1.8" fill="#8c8c8c"/>
<rect x="562" y="341.6" width="2" height="1.8" fill="#8c8c8c"/>
<rect x="181.1" y="337.8" width="1.2" height="6.5" fill="#c8c8c8"/>
<rect x="198.7" y="341.3" width="1.2" height="3" fill="#b8b8b8"/>
<rect x="216.2" y="341.3" width="1.2" height="3" fill="#b8b8b8"/>
<rect x="233.8" y="341.3" width="1.2" height="3" fill="#b8b8b8"/>
<rect x="251.4" y="341.3" width="1.2" height="3" fill="#b8b8b8"/>
<rect x="268.9" y="337.8" width="1.2" height="6.5" fill="#c8c8c8"/>
<rect x="286.5" y="341.3" width="1.2" height="3" fill="#b8b8b8"/>
<rect x="304.1" y="341.3" width="1.2" height="3" fill="#b8b8b8"/>
<rect x="321.6" y="341.3" width="1.2" height="3" fill="#b8b8b8"/>
<rect x="339.2" y="341.3" width="1.2" height="3" fill="#b8b8b8"/>
<rect x="356.8" y="337.8" width="1.2" height="6.5" fill="#c8c8c8"/>
<rect x="374.3" y="341.3" width="1.2" height="3" fill="#b8b8b8"/>
<rect x="391.9" y="341.3" width="1.2" height="3" fill="#b8b8b8"/>
<rect x="409.5" y="341.3" width="1.2" height="3" fill="#b8b8b8"/>
<rect x="427.0" y="341.3" width="1.2" height="3" fill="#b8b8b8"/>
<rect x="444.6" y="337.8" width="1.2" height="6.5" fill="#c8c8c8"/>
<rect x="462.2" y="341.3" width="1.2" height="3" fill="#b8b8b8"/>
<rect x="479.7" y="341.3" width="1.2" height="3" fill="#b8b8b8"/>
<rect x="497.3" y="341.3" width="1.2" height="3" fill="#b8b8b8"/>
<rect x="514.9" y="341.3" width="1.2" height="3" fill="#b8b8b8"/>
<rect x="532.4" y="337.8" width="1.2" height="6.5" fill="#c8c8c8"/>
<rect x="550.0" y="341.3" width="1.2" height="3" fill="#b8b8b8"/>
</g>
<g fill="#bbb" font-size="7.5">
  <text x="566.5" y="231.5">100</text>
  <text x="566.5" y="272.3">50</text>
  <text x="566.5" y="313" textLength="12.6" lengthAdjust="spacingAndGlyphs">cm/s</text>
  <text x="564" y="355.2" text-anchor="end" font-size="8.3">50.0 mm/s</text>
</g>

<!-- time axis -->
<rect x="181" y="343.8" width="383" height="1.3" fill="#ccc"/>

<!-- frame bar -->
<rect x="326" y="379.8" width="119" height="2.2" fill="#8a8a8a"/>
<rect x="442" y="379.5" width="4" height="2.5" fill="#e8e0e8"/>
<path d="M322.8 377.3 L323 381.9 L327.5 381 Z" fill="#eee"/>
<path d="M439.5 376.6 L446 376.8 L446 381 Z" fill="#30d080"/>
<text x="453" y="381.8" fill="#a8a8a8" font-size="7.5" textLength="18.6" lengthAdjust="spacingAndGlyphs">Fr 687</text>

</svg>
</body></html>
